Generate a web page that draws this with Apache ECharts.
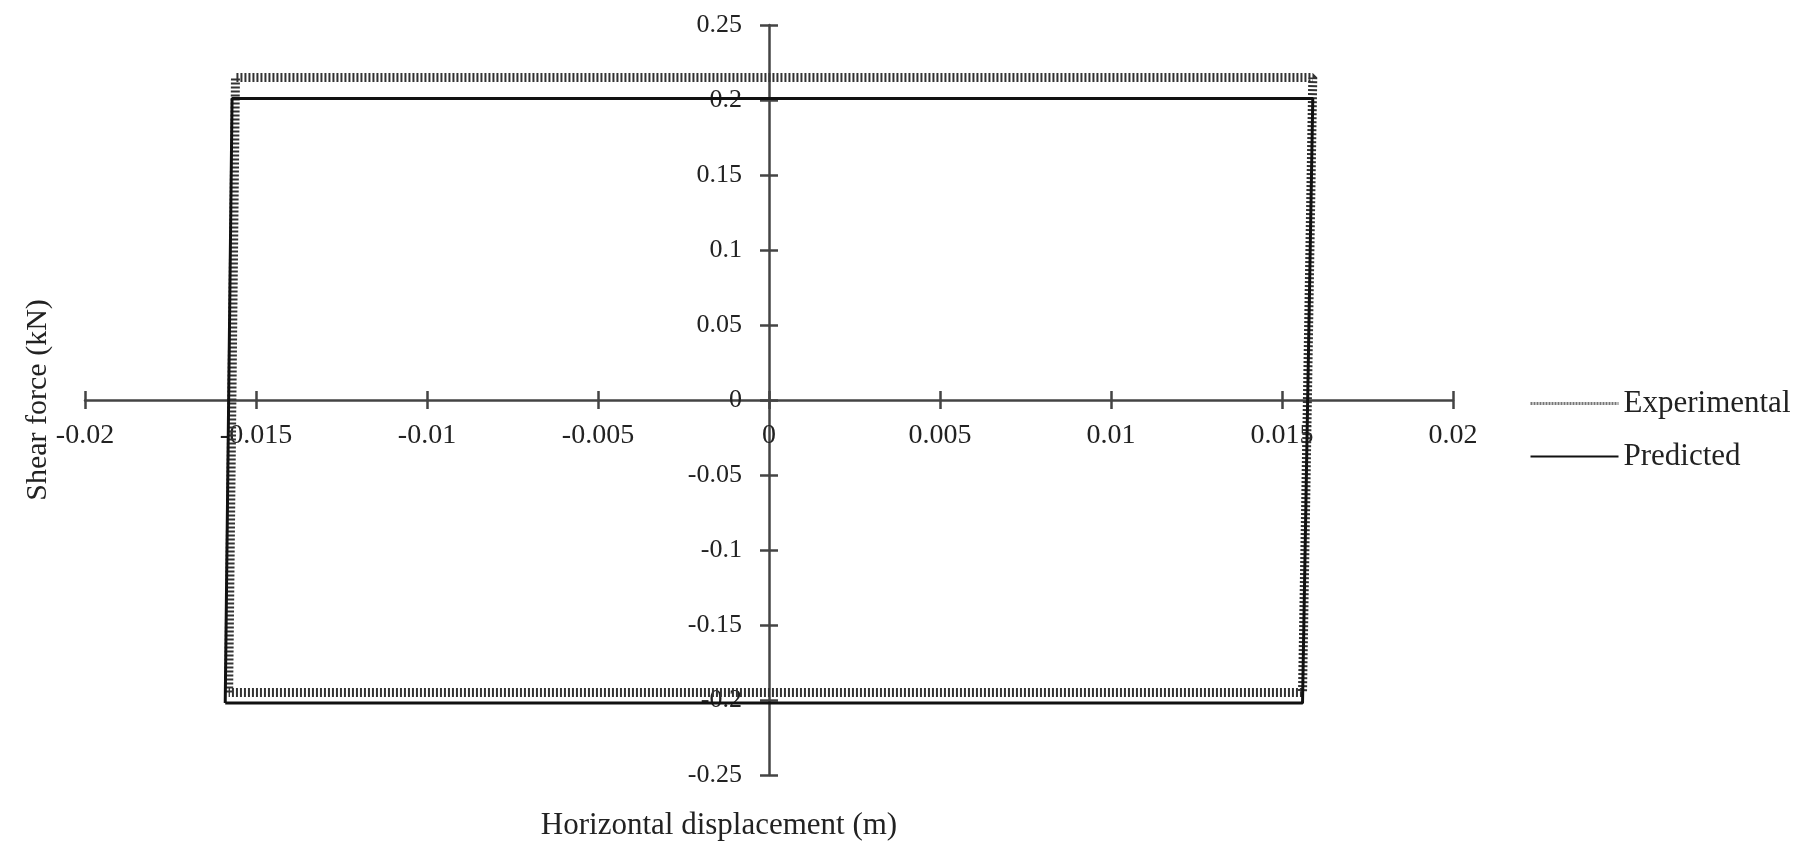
<!DOCTYPE html>
<html>
<head>
<meta charset="utf-8">
<title>Shear force vs horizontal displacement</title>
<script src="https://cdn.jsdelivr.net/npm/echarts@6/dist/echarts.min.js"></script>
<style>
html, body { margin: 0; padding: 0; background: #fff; }
#chart { width: 1805px; height: 845px; }
</style>
</head>
<body>
<div id="chart"></div>
<script>
// loops: displacement (m) and shear force (kN)
const expDisp   = [-0.0158, -0.0156, 0.0159, 0.0156, -0.0158];
const expShear  = [-0.195, 0.215, 0.215, -0.195, -0.195];
const predDisp  = [-0.0159, -0.0157, 0.0159, 0.0156, -0.0159];
const predShear = [-0.202, 0.201, 0.201, -0.202, -0.202];
const seriesNames = ['Experimental', 'Predicted'];

const font = "'Liberation Serif', 'DejaVu Serif', serif";
const ink = '#222';
const axisColor = '#444';

const expData = expDisp.map((x, i) => [x, expShear[i]]);
const predData = predDisp.map((x, i) => [x, predShear[i]]);

const chart = echarts.init(document.getElementById('chart'));

// plot area: x -0.02..0.02 over 85..1453, y -0.25..0.25 over 25..775
// the axes cross at zero (x=769, y=400), so they live in helper grids whose edge sits on zero
const X = { min: -0.02, max: 0.02, interval: 0.005 };
const Y = { min: -0.25, max: 0.25, interval: 0.05 };
const tick = { length: 9, lineStyle: { color: axisColor, width: 2.5 } };
const line = { onZero: false, lineStyle: { color: axisColor, width: 2.5 } };
const noLine = { show: false, onZero: false };

function hiddenX(i) { return Object.assign({ type: 'value', gridIndex: i, show: false, axisLine: noLine }, X); }
function hiddenY(i) { return Object.assign({ type: 'value', gridIndex: i, show: false, axisLine: noLine }, Y); }

const option = {
  animation: false,
  textStyle: { fontFamily: font, color: ink },
  grid: [
    { left: 85, width: 1368, top: 25, height: 750, outerBoundsMode: 'none' },  // data
    { left: 85, width: 1368, top: 25, height: 375, outerBoundsMode: 'none' },  // x axis, lower ticks
    { left: 85, width: 1368, top: 400, height: 375, outerBoundsMode: 'none' }, // x axis, upper ticks
    { left: 769, width: 684, top: 25, height: 750, outerBoundsMode: 'none' },  // y axis, left ticks
    { left: 85, width: 684, top: 25, height: 750, outerBoundsMode: 'none' }    // y axis, right ticks
  ],
  legend: {
    orient: 'vertical',
    left: 1529,
    top: 388,
    padding: 0,
    itemWidth: 88,
    itemHeight: 14,
    itemGap: 22,
    itemStyle: { color: 'rgba(0,0,0,0)', borderWidth: 0, opacity: 0 },
    textStyle: { fontFamily: font, fontSize: 31, color: ink },
    data: [
      { name: seriesNames[0], lineStyle: { width: 3, type: [2, 1], color: '#777' } },
      { name: seriesNames[1] }
    ]
  },
  xAxis: [
    hiddenX(0),
    Object.assign({
      type: 'value', gridIndex: 1, position: 'bottom',
      name: 'Horizontal displacement (m)',
      nameLocation: 'middle',
      nameGap: 410,
      nameTextStyle: { fontFamily: font, fontSize: 31, color: ink, padding: [0, 100, 0, 0] },
      axisLine: line,
      axisTick: tick,
      axisLabel: { fontFamily: font, fontSize: 28, color: ink, margin: 22 },
      splitLine: { show: false }
    }, X),
    Object.assign({
      type: 'value', gridIndex: 2, position: 'top',
      axisLine: noLine,
      axisTick: tick,
      axisLabel: { show: false },
      splitLine: { show: false }
    }, X),
    hiddenX(3),
    hiddenX(4)
  ],
  yAxis: [
    hiddenY(0),
    hiddenY(1),
    hiddenY(2),
    Object.assign({
      type: 'value', gridIndex: 3, position: 'left',
      name: 'Shear force (kN)',
      nameLocation: 'middle',
      nameGap: 716,
      nameTextStyle: { fontFamily: font, fontSize: 30, color: ink },
      axisLine: line,
      axisTick: tick,
      axisLabel: { fontFamily: font, fontSize: 26, color: ink, margin: 27 },
      splitLine: { show: false }
    }, Y),
    Object.assign({
      type: 'value', gridIndex: 4, position: 'right',
      axisLine: noLine,
      axisTick: tick,
      axisLabel: { show: false },
      splitLine: { show: false }
    }, Y)
  ],
  series: [
    {
      name: seriesNames[0],
      type: 'line',
      xAxisIndex: 0,
      yAxisIndex: 0,
      data: expData,
      symbol: 'none',
      z: 2,
      itemStyle: { color: '#444' },
      lineStyle: { color: '#333', width: 9, type: [2, 2] }
    },
    {
      name: seriesNames[1],
      type: 'line',
      xAxisIndex: 0,
      yAxisIndex: 0,
      data: predData,
      symbol: 'none',
      z: 3,
      itemStyle: { color: '#111' },
      lineStyle: { color: '#111', width: 3 }
    }
  ]
};

chart.setOption(option);
</script>
</body>
</html>
